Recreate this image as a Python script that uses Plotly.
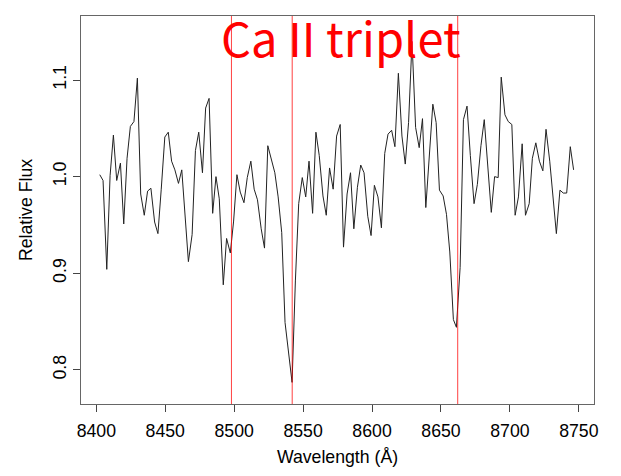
import plotly.graph_objects as go

wavelength = [
    8402.5, 8404.9, 8407.6, 8410.0, 8412.4, 8414.8, 8417.5, 8419.9, 8422.3, 8424.7,
    8427.3, 8429.8, 8432.2, 8434.8, 8437.2, 8439.6, 8442.3, 8444.7, 8447.1, 8449.7,
    8452.2, 8454.6, 8457.0, 8459.6, 8462.0, 8464.5, 8466.8, 8469.5, 8471.9, 8474.3,
    8477.0, 8479.3, 8481.8, 8484.4, 8486.8, 8489.2, 8492.1, 8494.5, 8497.2, 8499.6,
    8502.0, 8504.4, 8507.1, 8509.5, 8512.1, 8514.5, 8516.9, 8519.6, 8522.0, 8524.4,
    8527.0, 8529.5, 8531.9, 8534.5, 8536.9, 8539.3, 8542.0, 8544.4, 8546.8, 8549.4,
    8551.9, 8554.3, 8556.9, 8559.3, 8561.7, 8564.4, 8566.8, 8569.2, 8571.8, 8574.3,
    8576.9, 8579.3, 8581.9, 8584.4, 8586.8, 8589.4, 8591.8, 8594.2, 8596.9, 8599.3,
    8601.7, 8604.3, 8606.8, 8609.2, 8611.6, 8614.2, 8616.6, 8619.1, 8621.7, 8624.1,
    8626.5, 8629.0, 8631.6, 8634.2, 8636.6, 8639.0, 8641.7, 8644.1, 8646.5, 8648.9,
    8651.6, 8654.0, 8656.4, 8659.0, 8661.2, 8663.9, 8666.3, 8668.9, 8671.3, 8674.0,
    8676.4, 8679.0, 8681.4, 8684.1, 8686.5, 8688.9, 8691.5, 8693.7, 8696.4, 8698.8,
    8701.4, 8703.8, 8706.2, 8708.9, 8711.3, 8714.0, 8716.3, 8718.8, 8721.4, 8723.9,
    8726.2, 8728.9, 8731.3, 8733.7, 8736.3, 8738.7, 8741.2, 8743.8, 8746.2,
]

flux = [
    1.002, 0.996, 0.904, 1.001, 1.043, 0.996, 1.014, 0.951, 1.019, 1.052,
    1.057, 1.102, 0.982, 0.960, 0.985, 0.988, 0.953, 0.941, 0.987, 1.041,
    1.046, 1.016, 1.007, 0.993, 1.007, 0.956, 0.912, 0.940, 1.027, 1.046,
    1.004, 1.071, 1.081, 0.962, 1.000, 0.977, 0.888, 0.936, 0.921, 0.954,
    1.002, 0.984, 0.973, 0.999, 1.016, 0.987, 0.976, 0.946, 0.926, 1.032,
    1.019, 1.004, 0.979, 0.942, 0.849, 0.822, 0.787, 0.892, 0.972, 0.999,
    0.979, 1.016, 0.962, 1.046, 1.022, 0.980, 0.960, 1.009, 0.987, 1.042,
    1.054, 0.927, 0.982, 1.004, 0.946, 0.989, 1.012, 1.004, 0.959, 0.939,
    0.991, 0.979, 0.947, 1.024, 1.044, 1.048, 1.031, 1.107, 1.042, 1.013,
    1.056, 1.140, 1.051, 1.030, 1.060, 0.968, 1.022, 1.075, 1.056, 0.986,
    0.980, 0.961, 0.922, 0.852, 0.844, 0.906, 1.059, 1.073, 1.022, 0.972,
    0.992, 1.032, 1.059, 1.009, 0.963, 1.000, 0.999, 1.103, 1.064, 1.057,
    1.054, 0.960, 0.979, 1.034, 0.960, 0.972, 1.019, 1.035, 1.016, 1.006,
    1.049, 1.016, 0.979, 0.941, 0.986, 0.983, 0.983, 1.031, 1.007,
]

ca_lines = [8498.02, 8542.09, 8662.14]
x_ticks = [8400, 8450, 8500, 8550, 8600, 8650, 8700, 8750]
y_ticks = [0.8, 0.9, 1.0, 1.1]
y_tick_labels = ["0.8", "0.9", "1.0", "1.1"]

fig = go.Figure()
fig.add_trace(go.Scatter(
    x=wavelength, y=flux, mode="lines",
    line=dict(color="#222222", width=1),
    hoverinfo="skip", showlegend=False,
))

for wl in ca_lines:
    fig.add_shape(type="line", xref="x", yref="paper", x0=wl, x1=wl, y0=0, y1=1,
                  line=dict(color="rgba(255,0,0,0.75)", width=1), layer="above")

fig.add_annotation(
    text="Ca II triplet", xref="paper", yref="paper", x=0.506, y=1.04,
    xanchor="center", yanchor="top", showarrow=False,
    font=dict(family="Noto Sans CJK JP", size=47, color="#ff0000"),
)

axis_font = dict(family="Liberation Sans, Arial, sans-serif", size=17.7, color="#000000")

fig.update_layout(
    width=621, height=476,
    margin=dict(l=81, r=26.5, t=16, b=58.3),
    paper_bgcolor="white", plot_bgcolor="white",
    font=axis_font,
    showlegend=False,
)
fig.update_xaxes(
    range=[8388.9, 8761.0], tickvals=x_ticks, ticktext=[str(t) for t in x_ticks],
    showgrid=False, zeroline=False,
    showline=True, mirror=True, linecolor="#666666", linewidth=1.3,
    ticks="outside", ticklen=7, tickcolor="#444444", tickwidth=1,
    tickfont=axis_font, ticklabelstandoff=4,
    title=dict(text="Wavelength (Å)", font=axis_font, standoff=10),
)
fig.update_yaxes(
    range=[0.7646, 1.1663], tickvals=y_ticks, ticktext=y_tick_labels,
    tickangle=-90,
    showgrid=False, zeroline=False,
    showline=True, mirror=True, linecolor="#666666", linewidth=1.3,
    ticks="outside", ticklen=7, tickcolor="#444444", tickwidth=1,
    tickfont=axis_font,
    title=dict(text="Relative Flux", font=axis_font, standoff=12),
)

fig.write_html("out.html")
